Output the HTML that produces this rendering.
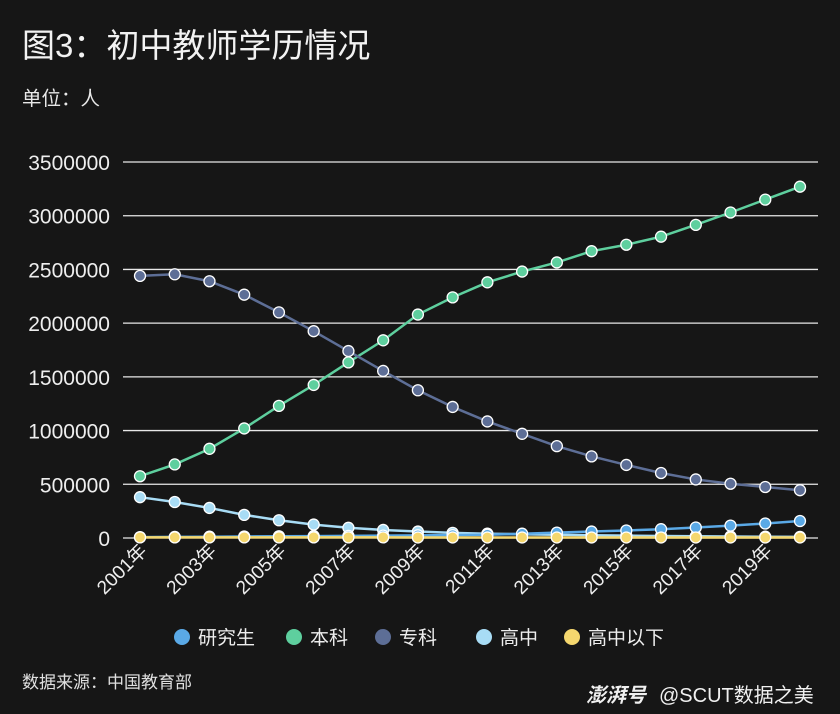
<!DOCTYPE html>
<html><head><meta charset="utf-8"><style>
body{margin:0;background:#161616;width:840px;height:714px;overflow:hidden;font-family:"Liberation Sans","Noto Sans CJK SC",sans-serif;color:#eee}
</style></head><body>
<svg width="840" height="714" id="svg" style="position:absolute;left:0;top:0">
<rect width="840" height="714" fill="#161616"/>
<text x="22" y="57" font-size="33" fill="#f2f2f2" font-family="Liberation Sans, Noto Sans CJK SC, sans-serif">图3：初中教师学历情况</text>
<text x="22" y="105" font-size="19.5" fill="#e8e8e8" font-family="Liberation Sans, Noto Sans CJK SC, sans-serif">单位：人</text>
<text x="22" y="688" font-size="17" fill="#e0e0e0" font-family="Liberation Sans, Noto Sans CJK SC, sans-serif">数据来源：中国教育部</text>
<text x="586" y="702" font-size="20" font-style="italic" font-weight="bold" fill="#f0f0f0" font-family="Liberation Sans, Noto Sans CJK SC, sans-serif">澎湃号</text>
<text x="659" y="702" font-size="20" fill="#f0f0f0" font-family="Liberation Sans, Noto Sans CJK SC, sans-serif">@SCUT数据之美</text>
<g id="plot"></g>
</svg>
<script>
const years=["2001年","2002年","2003年","2004年","2005年","2006年","2007年","2008年","2009年","2010年","2011年","2012年","2013年","2014年","2015年","2016年","2017年","2018年","2019年","2020年"];
const yTicks=[0,500000,1000000,1500000,2000000,2500000,3000000,3500000];
const seriesNames=["研究生","本科","专科","高中","高中以下"];
const seriesColors=["#5aa9e6","#5ecf9e","#5d6e96","#a8dcf5","#f5d76e"];
const graduate=[8000,10000,12000,14000,16000,18000,20000,22000,25000,27000,30000,40000,50000,60000,70000,82000,98000,115000,135000,158000];
const bachelor=[575000,685000,830000,1020000,1230000,1425000,1635000,1840000,2080000,2240000,2380000,2480000,2565000,2670000,2730000,2805000,2915000,3030000,3150000,3270000];
const college=[2440000,2455000,2390000,2265000,2100000,1925000,1740000,1555000,1375000,1220000,1085000,970000,855000,760000,680000,605000,545000,505000,475000,445000];
const highSchool=[380000,335000,280000,215000,165000,125000,95000,75000,60000,48000,40000,35000,30000,26000,22000,19000,16000,14000,12000,10000];
const belowHigh=[6000,6000,6000,6000,6000,6000,6000,6000,5000,5000,5000,5000,5000,5000,5000,5000,5000,5000,5000,5000];
const allSeries=[graduate,bachelor,college,highSchool,belowHigh];
const NS="http://www.w3.org/2000/svg";
const g=document.getElementById("plot");
const x=i=>140+i*(660/19);
const y=v=>538-v*(376/3500000);
function mk(t,a){const e=document.createElementNS(NS,t);for(const k in a)e.setAttribute(k,a[k]);g.appendChild(e);return e;}
yTicks.forEach(v=>{
 const l=mk("line",{x1:123,x2:818,y1:y(v),y2:y(v),stroke:"#e8e8e8","stroke-width":1.3});
 
 
 const t=mk("text",{x:110,y:y(v)+8,"text-anchor":"end","font-size":21,fill:"#eee"});
 t.textContent=v;
 
 
});
years.forEach((yr,i)=>{
 if(i%2)return;
 const t=mk("text",{x:x(i)+8,y:552,"text-anchor":"end","font-size":19,fill:"#eee",transform:`rotate(-45 ${x(i)+8} 552)`,"font-family":"Liberation Sans, Noto Sans CJK SC, sans-serif"});
 t.textContent=yr;
 
 
});
const order=[1,2,3,0,4];
order.forEach(s=>{
 const d=allSeries[s].map((v,i)=>(i?"L":"M")+x(i)+" "+y(v)).join(" ");
 const p=mk("path",{d:d,fill:"none",stroke:seriesColors[s],"stroke-width":2.5});
 
 
 allSeries[s].forEach((v,i)=>{
  const c=mk("circle",{cx:x(i),cy:y(v),r:5.5,fill:seriesColors[s],stroke:"#fff","stroke-width":1.3});
  
  
 });
});
const lx=[182,294,383,484,572];
seriesNames.forEach((n,s)=>{
 const c=mk("circle",{cx:lx[s],cy:637,r:8,fill:seriesColors[s]});
 
 
 const t=mk("text",{x:lx[s]+16,y:644,"font-size":19,fill:"#eee","font-family":"Liberation Sans, Noto Sans CJK SC, sans-serif"});
 t.textContent=n;
 
 
});
</script>
</body></html>
